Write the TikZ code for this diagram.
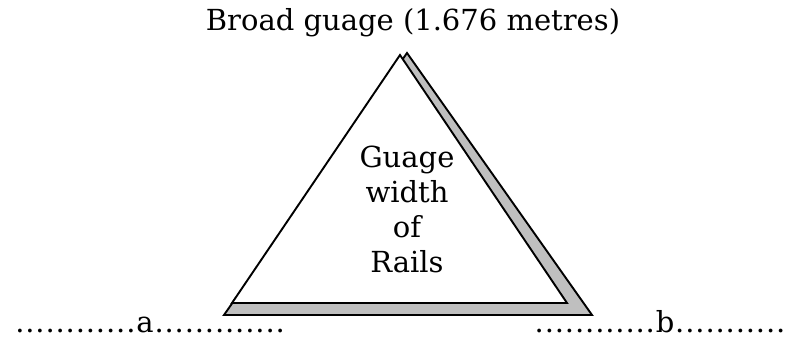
\documentclass[tikz,border=0pt]{standalone}
\usepackage{fontspec}
\setmainfont{DejaVu Serif}
\newfontfamily\dotsfont[LetterSpace=3]{DejaVu Serif}
\begin{document}
\begin{tikzpicture}[x=1pt,y=-1pt,
  edge/.style={draw=black,line width=1.9pt,line join=miter},
  lbl/.style={font=\fontsize{29}{35}\selectfont,inner sep=0pt,anchor=base},
  dlbl/.style={font=\dotsfont\fontsize{29}{35}\selectfont,inner sep=0pt,anchor=base}]
\useasboundingbox (0,0) rectangle (788,339);
% shadow triangle
\coordinate (sa) at (407,53);
\coordinate (sl) at (224,315);
\coordinate (sr) at (592,315);
\filldraw[edge,fill=black!25] (sa) -- (sr) -- (sl) -- cycle;
% main triangle
\coordinate (ta) at (400,55);
\coordinate (tl) at (232,303);
\coordinate (tr) at (567,303);
\filldraw[edge,fill=white] (ta) -- (tr) -- (tl) -- cycle;
% labels
\node[lbl] (title) at (413,31) {Broad guage (1.676 metres)};
\node[lbl] (g1) at (407,168) {Guage};
\node[lbl] (g2) at (407,203) {width};
\node[lbl] (g3) at (407,238) {of};
\node[lbl] (g4) at (407,273) {Rails};
\node[dlbl] (a) at (150,333) {............a.............};
\node[dlbl] (b) at (660,333) {............b...........};
\end{tikzpicture}
\end{document}
